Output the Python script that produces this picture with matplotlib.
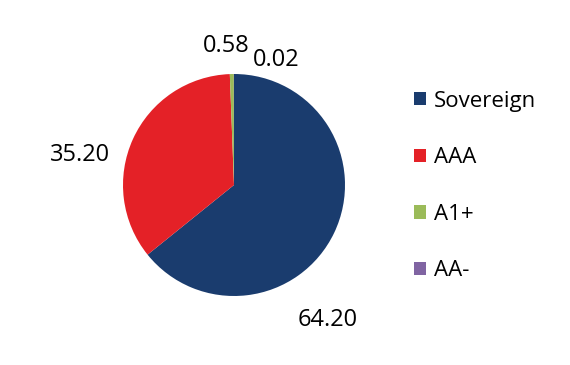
import matplotlib.pyplot as plt

# rating breakdown
categories = ['Sovereign', 'AAA', 'A1+', 'AA-']
values = [64.20, 35.20, 0.58, 0.02]
colors = ['#1a3c6e', '#e42127', '#9bbb59', '#8064a2']
value_labels = ['64.20', '35.20', '0.58', '0.02']
label_pos = [(0.84, -1.22), (-1.39, 0.27), (-0.07, 1.25), (0.38, 1.13)]

plt.rcParams['font.family'] = ['Open Sans', 'DejaVu Sans']

fig = plt.figure(figsize=(5.7, 3.65), dpi=100)
ax = fig.add_axes([123 / 570, 69 / 365, 222 / 570, 222 / 365])
wedges, _ = ax.pie(values, colors=colors, startangle=90, counterclock=False,
                   radius=1, wedgeprops=dict(linewidth=0))
ax.set_xlim(-1, 1)
ax.set_ylim(-1, 1)
ax.set_aspect('equal')

for txt, (x, y) in zip(value_labels, label_pos):
    ax.text(x, y, txt, ha='center', va='center', fontsize=17, clip_on=False)

leg = fig.legend(wedges, categories, loc='upper left', bbox_to_anchor=(0.71, 0.776),
                 frameon=False, fontsize=16, handlelength=0.55, handleheight=0.55,
                 handletextpad=0.35, labelspacing=1.6, borderaxespad=0)

fig.savefig('out.png', dpi=100)
